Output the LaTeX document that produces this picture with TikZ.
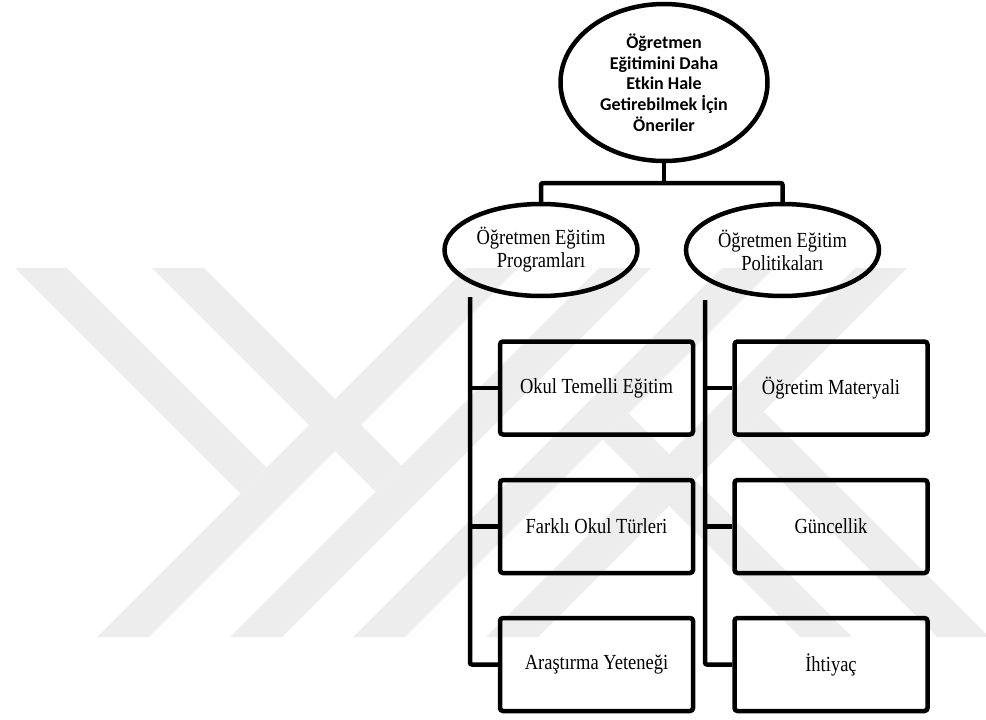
\documentclass[tikz,border=0pt]{standalone}
\usepackage{fontspec}
\setmainfont{Liberation Serif}[FakeStretch=0.86]
\newfontfamily\calibri{Carlito}
\usetikzlibrary{positioning,shapes.geometric}
\definecolor{markgray}{RGB}{237,237,237}

\tikzset{
  rootnode/.style={ellipse, draw, line width=4.5pt, minimum width=207pt, minimum height=157pt, inner sep=0pt, align=center, font=\calibri\bfseries\fontsize{18}{20.7}\selectfont},
  groupnode/.style={ellipse, draw, line width=4.5pt, minimum width=193pt, minimum height=92pt, inner sep=0pt, align=center, font=\fontsize{21.5}{23}\selectfont},
  itembox/.style={rectangle, draw, line width=4.5pt, rounded corners=3pt, minimum width=193pt, minimum height=93pt, inner sep=0pt, font=\fontsize{21.5}{23}\selectfont},
  link/.style={line width=4.5pt, rounded corners=2pt},
  markband/.style={fill=markgray, draw=none},
}

\begin{document}
\begin{tikzpicture}[x=1pt,y=1pt,yscale=-1,xscale=1]
\useasboundingbox (0,0) rectangle (986,720);

%Shape: Polygon [background mark, two turned copies]
\foreach \ang in {0,180}{
  \begin{scope}[rotate around={\ang:(502,452.5)}]
    \fill[markband] (97,637) -- (149,637) -- (518,268) -- (466,268) -- cycle;
    \fill[markband] (15,268) -- (67,268) -- (266.5,467.5) -- (240.5,493.5) -- cycle;
    \fill[markband] (230,637) -- (282,637) -- (651,268) -- (599,268) -- cycle;
    \fill[markband] (152,268) -- (204,268) -- (401.5,465.5) -- (375.5,491.5) -- cycle;
  \end{scope}
}

%Shape: Ellipse [root]
\node[rootnode] (root) at (664,82.5) {Öğretmen\\Eğitimini Daha\\Etkin Hale\\Getirebilmek İçin\\Öneriler};

%Shape: Ellipse [groups]
\node[groupnode] (prog) at (541,250) {Öğretmen Eğitim\\Programları};
\node[groupnode] (pol) at (782.5,250) {Öğretmen Eğitim\\Politikaları};

%Shape: Rectangle [items, left]
\node[itembox] (okul) at (596.5,388) {Okul Temelli Eğitim};
\node[itembox] (farkli) at (596.5,526.5) {Farklı Okul Türleri};
\node[itembox] (arastirma) at (596.5,664.5) {Araştırma Yeteneği};

%Shape: Rectangle [items, right]
\node[itembox] (materyal) at (831,388) {Öğretim Materyali};
\node[itembox] (guncel) at (831,526.5) {Güncellik};
\node[itembox] (ihtiyac) at (831,664.5) {İhtiyaç};

%Straight Lines [fork]
\coordinate (fork) at (664,183);
\draw[link] (root.south) -- (fork);
\draw[link] (prog.north) |- (fork) -| (pol.north);

%Straight Lines [left trunk]
\coordinate (progtop) at (470,297);
\draw[link] (progtop) |- (arastirma.west);
\draw[link] (okul.west) -- (okul.west -| progtop);
\draw[link] (farkli.west) -- (farkli.west -| progtop);

%Straight Lines [right trunk]
\coordinate (poltop) at (705,300);
\draw[link] (poltop) |- (ihtiyac.west);
\draw[link] (materyal.west) -- (materyal.west -| poltop);
\draw[link] (guncel.west) -- (guncel.west -| poltop);

\end{tikzpicture}
\end{document}
